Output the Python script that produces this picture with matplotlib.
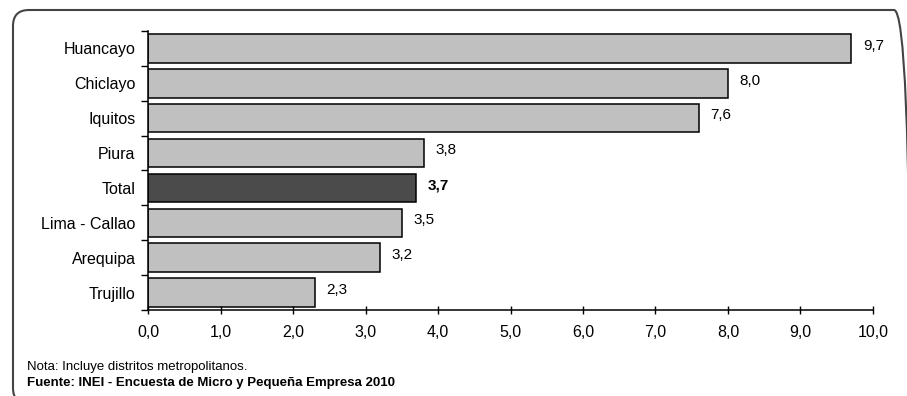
import matplotlib.pyplot as plt
from matplotlib.patches import FancyBboxPatch
from matplotlib.ticker import FixedLocator

plt.rcParams['font.family'] = ['Liberation Sans', 'DejaVu Sans']

ciudades = ["Huancayo", "Chiclayo", "Iquitos", "Piura", "Total",
            "Lima - Callao", "Arequipa", "Trujillo"]
valores = [9.7, 8.0, 7.6, 3.8, 3.7, 3.5, 3.2, 2.3]
xticks = [0, 1, 2, 3, 4, 5, 6, 7, 8, 9, 10]

fig = plt.figure(figsize=(9.07, 3.96), dpi=100)
ax = fig.add_axes([0.1632, 0.2172, 0.7993, 0.7045])

colores = ["#4b4b4b" if c == "Total" else "#c0c0c0" for c in ciudades]
pos = list(range(len(ciudades)))
ax.barh(pos, valores, height=0.82, color=colores, edgecolor="black", linewidth=1.1)

for i, (c, v) in enumerate(zip(ciudades, valores)):
    ax.text(v + 0.16, i - 0.08, f"{v:.1f}".replace(".", ","), va="center", ha="left",
            fontsize=11, fontweight="bold" if c == "Total" else "normal")

ax.set_xlim(0, 10)
ax.set_ylim(len(ciudades) - 0.5, -0.5)
ax.set_yticks(pos)
ax.set_yticklabels(ciudades, fontsize=11.5)
ax.yaxis.set_minor_locator(FixedLocator([p - 0.5 for p in range(len(ciudades) + 1)]))
ax.tick_params(axis="y", which="major", length=0, pad=9)
ax.tick_params(axis="y", which="minor", length=5, direction="out", width=1)
ax.set_xticks(xticks)
ax.set_xticklabels([f"{t:.1f}".replace(".", ",") for t in xticks], fontsize=11.5)
ax.tick_params(axis="x", direction="inout", length=6, width=1, pad=8)

for s in ["top", "right"]:
    ax.spines[s].set_visible(False)
for s in ["left", "bottom"]:
    ax.spines[s].set_linewidth(1.1)

fig.text(0.03, 0.072, "Nota: Incluye distritos metropolitanos.", fontsize=9.5, va="center")
fig.text(0.03, 0.033, "Fuente: INEI - Encuesta de Micro y Pequeña Empresa 2010",
         fontsize=9.5, fontweight="bold", va="center")

# marco redondeado alrededor del gráfico
marco = FancyBboxPatch((13, -8), 897, 394, boxstyle="round,pad=0,rounding_size=16",
                       transform=None, fill=False, edgecolor="#444444", linewidth=1.5,
                       clip_on=False)
fig.patches.append(marco)

fig.savefig("out.png", dpi=100)
